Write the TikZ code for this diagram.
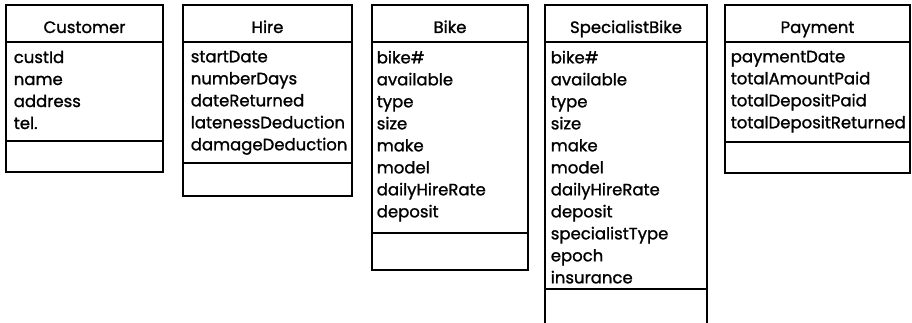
\documentclass[tikz,border=0pt]{standalone}
\usepackage{fontspec}
\setmainfont{Poppins}[FakeBold=1.2]
\begin{document}
\begin{tikzpicture}[x=1pt, y=-1pt, line width=1.6pt,
  every node/.style={inner sep=0pt},
  classname/.style={anchor=base, font=\fontsize{16.5}{22}\selectfont},
  attrs/.style={anchor=north west, align=left, font=\fontsize{16.5}{22}\selectfont}]
\useasboundingbox (0,0) rectangle (912,323);

% Customer
\draw (6,5) rectangle (163,172);
\draw (6,42) -- (163,42);
\draw (6,141) -- (163,141);
\node at (84.5,33) (customer) [classname] {Customer};
\node at (13,50) (customerattrs) [attrs] {custId\\name\\address\\tel.};

% Hire
\draw (183,5) rectangle (352,196);
\draw (183,42) -- (352,42);
\draw (183,163) -- (352,163);
\node at (267.5,33) (hire) [classname] {Hire};
\node at (190,50) (hireattrs) [attrs] {startDate\\numberDays\\dateReturned\\latenessDeduction\\damageDeduction};

% Bike
\draw (372,5) rectangle (528,270);
\draw (372,42) -- (528,42);
\draw (372,233) -- (528,233);
\node at (450,33) (bike) [classname] {Bike};
\node at (376,50) (bikeattrs) [attrs] {bike\#\\available\\type\\size\\make\\model\\dailyHireRate\\deposit};

% SpecialistBike, cut off at the bottom
\draw (545,323) |- (707,5) -- (707,323);
\draw (545,42) -- (707,42);
\draw (545,289) -- (707,289);
\node at (626,33) (specialist) [classname] {SpecialistBike};
\node at (550,50) (specialistattrs) [attrs] {bike\#\\available\\type\\size\\make\\model\\dailyHireRate\\deposit\\specialistType\\epoch\\insurance};

% Payment
\draw (725,5) rectangle (910,173);
\draw (725,42) -- (910,42);
\draw (725,142) -- (910,142);
\node at (817.5,33) (payment) [classname] {Payment};
\node at (730,50) (paymentattrs) [attrs] {paymentDate\\totalAmountPaid\\totalDepositPaid\\totalDepositReturned};
\end{tikzpicture}
\end{document}
